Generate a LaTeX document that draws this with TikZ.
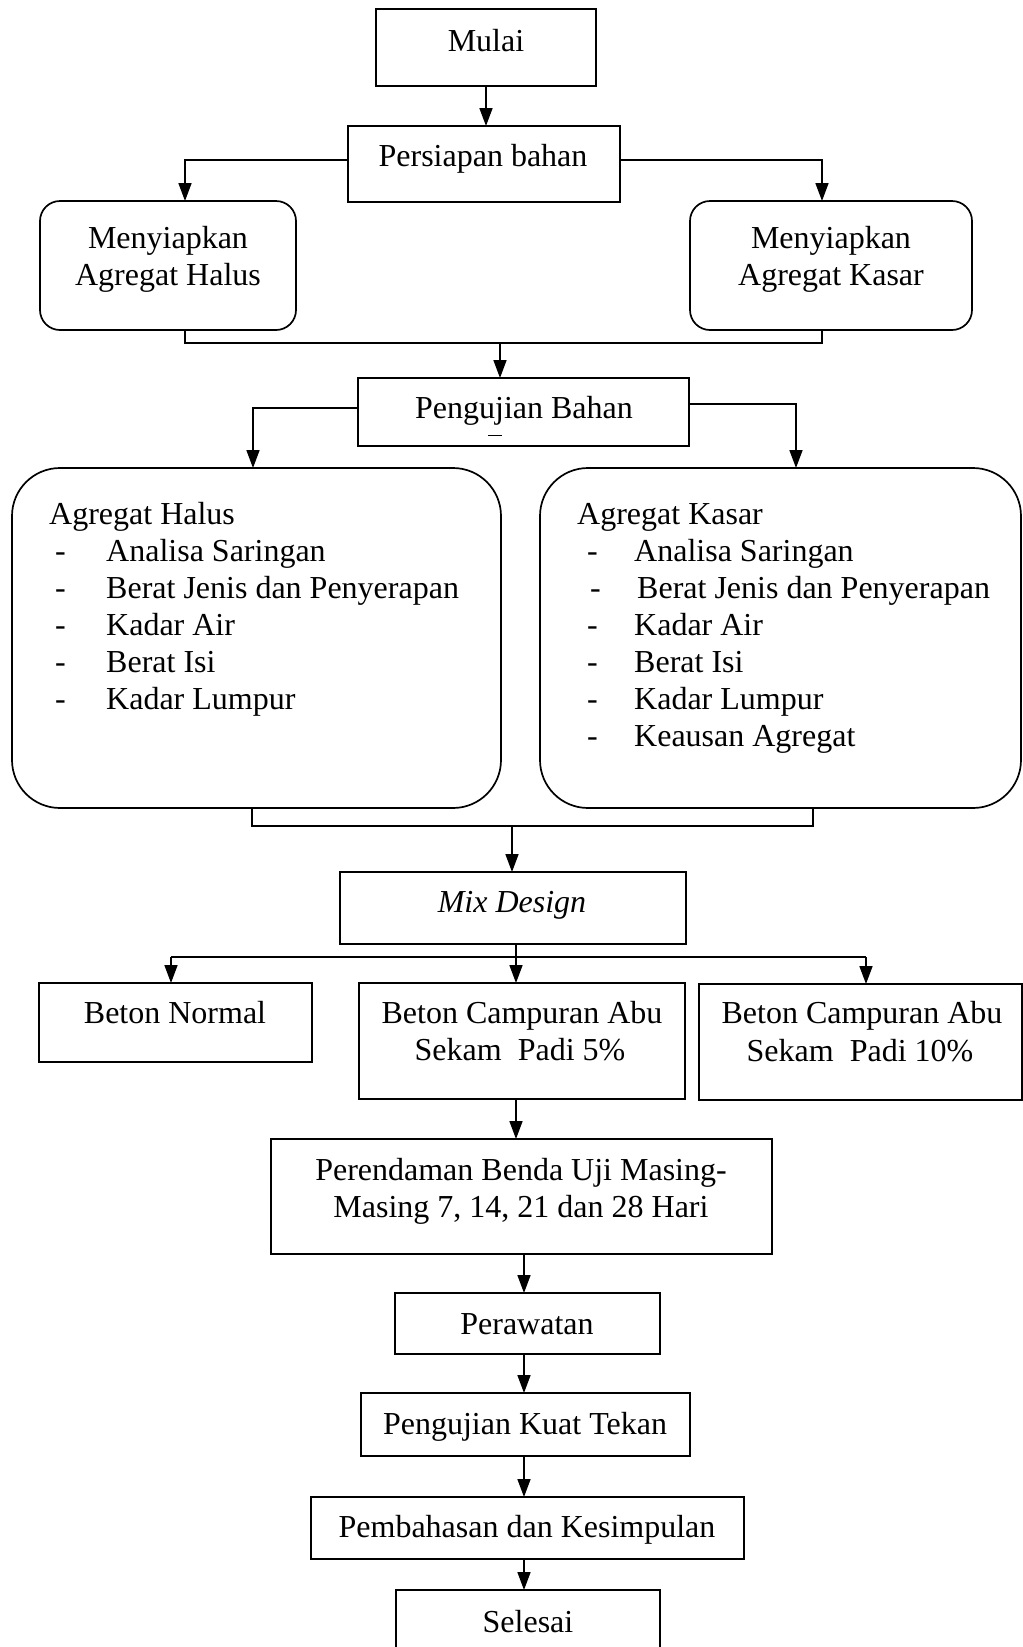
\documentclass[tikz,border=0pt]{standalone}
\usepackage{fontspec}
\setmainfont{Liberation Serif}
\usetikzlibrary{arrows.meta}
\tikzset{
  box/.style={draw, line width=1.7pt, rectangle, inner sep=0pt, outer sep=0pt},
  rbox/.style={box, rounded corners=20pt},
  bigbox/.style={box, rounded corners=48pt},
  conn/.style={line width=1.7pt},
  arr/.style={conn, -{Triangle[length=18pt,width=13pt]}},
  txt/.style={inner sep=0pt, anchor=base, font=\fontsize{32}{37}\selectfont},
  ltxt/.style={txt, anchor=base west},
}
\newcommand{\mkbox}[6]{% style, name, x1, y1, x2, y2
  \node[#1, minimum width={(#5)-(#3)}, minimum height={(#6)-(#4)}] (#2) at ({((#3)+(#5))/2},{((#4)+(#6))/2}) {};}
\begin{document}
\begin{tikzpicture}[x=1pt,y=-1pt]
\useasboundingbox (0,0) rectangle (1023,1647);
\clip (0,0) rectangle (1023,1647);
% boxes
\mkbox{box}{mulai}{376}{9}{596}{86}
\mkbox{box}{persiapan}{348}{126}{620}{202}
\mkbox{rbox}{halusA}{40}{201}{296}{330}
\mkbox{rbox}{kasarA}{690}{201}{972}{330}
\mkbox{box}{uji}{358}{378}{689}{446}
\mkbox{bigbox}{halusB}{12}{468}{501}{808}
\mkbox{bigbox}{kasarB}{540}{468}{1021}{808}
\mkbox{box}{mix}{340}{872}{686}{944}
\mkbox{box}{normal}{39}{983}{312}{1062}
\mkbox{box}{bfive}{359}{983}{685}{1099}
\mkbox{box}{bten}{699}{984}{1022}{1100}
\mkbox{box}{rendam}{271}{1139}{772}{1254}
\mkbox{box}{rawat}{395}{1293}{660}{1354}
\mkbox{box}{kuat}{361}{1393}{690}{1456}
\mkbox{box}{bahas}{311}{1497}{744}{1559}
\mkbox{box}{selesai}{396}{1590}{660}{1680}
% texts
\node[txt] (tmulai) at (486,51) {Mulai};
\node[txt] (tpersiapan) at (483,166) {Persiapan bahan};
\node[txt] (thalusA1) at (168,248) {Menyiapkan};
\node[txt] (thalusA2) at (168,285) {Agregat Halus};
\node[txt] (tkasarA1) at (831,248) {Menyiapkan};
\node[txt] (tkasarA2) at (831,285) {Agregat Kasar};
\node[txt] (tuji) at (524,418) {Pengujian Bahan};
\draw[line width=1pt] (488,435) -- (502,435);
% Agregat Halus list
\node[ltxt] (hh) at (49,524) {Agregat Halus};
\foreach \i/\t in {1/Analisa Saringan,2/Berat Jenis dan Penyerapan,3/Kadar Air,4/Berat Isi,5/Kadar Lumpur}{
  \node[ltxt] (hd\i) at (55,{524+37*\i}) {-};
  \node[ltxt] (hi\i) at (106,{524+37*\i}) {\t};
}
% Agregat Kasar list
\node[ltxt] (kh) at (577,524) {Agregat Kasar};
\foreach \i/\t/\dx in {1/Analisa Saringan/0,2/Berat Jenis dan Penyerapan/3,3/Kadar Air/0,4/Berat Isi/0,5/Kadar Lumpur/0,6/Keausan Agregat/0}{
  \node[ltxt] (kd\i) at ({587+\dx},{524+37*\i}) {-};
  \node[ltxt] (ki\i) at ({634+\dx},{524+37*\i}) {\t};
}
\node[txt] (tmix) at (512,912) {\itshape Mix Design};
\node[txt] (tnormal) at (175,1023) {Beton Normal};
\node[txt] (tfive1) at (522,1023) {Beton Campuran Abu};
\node[txt] (tfive2) at (520,1060) {Sekam\ \ Padi 5\%};
\node[txt] (tten1) at (862,1023) {Beton Campuran Abu};
\node[txt] (tten2) at (860,1061) {Sekam\ \ Padi 10\%};
\node[txt] (trendam1) at (521,1180) {Perendaman Benda Uji Masing-};
\node[txt] (trendam2) at (521,1217) {Masing 7, 14, 21 dan 28 Hari};
\node[txt] (trawat) at (527,1334) {Perawatan};
\node[txt] (tkuat) at (525,1434) {Pengujian Kuat Tekan};
\node[txt] (tbahas) at (527,1537) {Pembahasan dan Kesimpulan};
\node[txt] (tselesai) at (528,1632) {Selesai};
% connectors
\draw[arr] (mulai.south) -- (mulai.south |- persiapan.north);
\coordinate (pl) at (185,160);
\coordinate (pr) at (822,160);
\draw[arr] (persiapan.west |- pl) -- (pl) -- (pl |- halusA.north);
\draw[arr] (persiapan.east |- pr) -- (pr) -- (pr |- kasarA.north);
\coordinate (ja) at (185,343);
\coordinate (jb) at (822,343);
\coordinate (jm) at (500,343);
\draw[conn] (halusA.south -| ja) -- (ja) -- (jb) -- (kasarA.south -| jb);
\draw[arr] (jm) -- (jm |- uji.north);
\coordinate (ql) at (253,408);
\coordinate (qr) at (796,404);
\draw[arr] (uji.west |- ql) -- (ql) -- (ql |- halusB.north);
\draw[arr] (uji.east |- qr) -- (qr) -- (qr |- kasarB.north);
\coordinate (ka) at (252,826);
\coordinate (kb) at (813,826);
\coordinate (km) at (512,826);
\draw[conn] (halusB.south -| ka) -- (ka) -- (kb) -- (kasarB.south -| kb);
\draw[arr] (km) -- (km |- mix.north);
\coordinate (m0) at (516,957);
\coordinate (ml) at (171,957);
\coordinate (mr) at (866,957);
\draw[conn] (mix.south -| m0) -- (m0);
\draw[conn] (ml) -- (mr);
\draw[arr] (ml) -- (ml |- normal.north);
\draw[arr] (m0) -- (m0 |- bfive.north);
\draw[arr] (mr) -- (mr |- bten.north);
\draw[arr] (bfive.south -| m0) -- (m0 |- rendam.north);
\coordinate (v) at (524,0);
\draw[arr] (rendam.south -| v) -- (rawat.north -| v);
\draw[arr] (rawat.south -| v) -- (kuat.north -| v);
\draw[arr] (kuat.south -| v) -- (bahas.north -| v);
\draw[arr] (bahas.south -| v) -- (selesai.north -| v);
\end{tikzpicture}
\end{document}
